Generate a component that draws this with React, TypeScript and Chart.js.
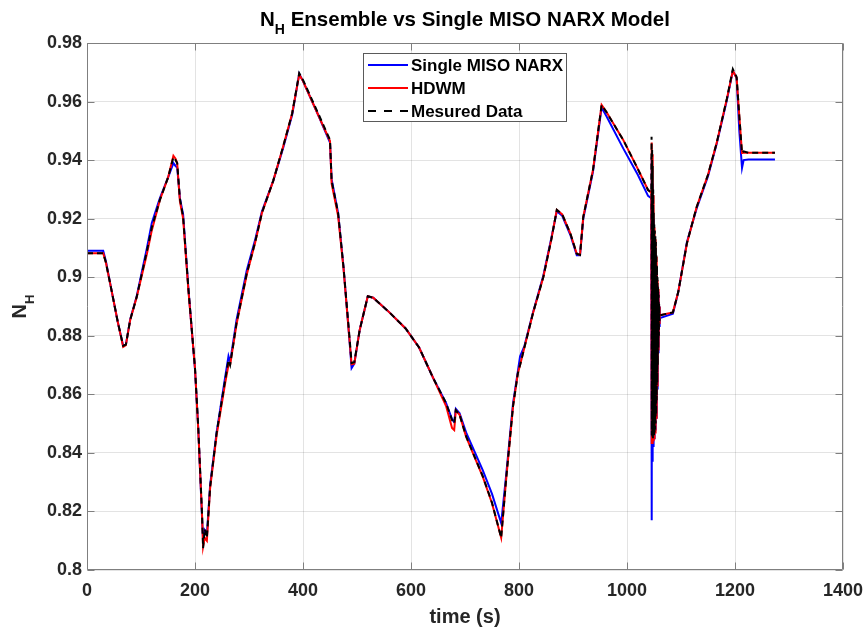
import React, { useEffect, useRef } from "react";
import { Chart, registerables } from "chart.js";

Chart.register(...registerables);

// ---------------- data ----------------
const time = [
  0, 30, 35, 46, 57, 67, 72, 80, 92, 111,
  120, 135, 150, 160, 164, 167, 172, 178, 188, 200,
  206, 213, 215, 218, 222, 228, 240, 256, 262, 265,
  277, 296, 311, 324, 345, 363, 380, 393, 400, 428,
  450, 453, 465, 475, 485, 490, 495, 505, 520, 530,
  560, 590, 615, 641, 665, 676, 680, 683, 690, 702,
  733, 750, 767, 776, 789, 798, 802, 810, 826, 845,
  860, 870, 880, 895, 907, 913, 919, 937, 953, 962,
  993, 1020, 1039, 1045,
  1045.5, 1046, 1046.5, 1047, 1047.5, 1048, 1048.5, 1049, 1049.5, 1050,
  1050.5, 1051, 1051.5, 1052, 1052.5, 1053, 1053.5, 1054, 1054.5, 1055,
  1055.5, 1056, 1056.5, 1057, 1057.5, 1058, 1058.5, 1059, 1059.5, 1060,
  1061, 1085, 1095, 1111, 1129, 1150, 1166, 1185, 1196, 1203,
  1208, 1213, 1216, 1225, 1250, 1274,
];

const measured = [
  0.9082, 0.9082, 0.905, 0.895, 0.8847, 0.8766, 0.877, 0.8854, 0.8932, 0.909,
  0.917, 0.9264, 0.934, 0.941, 0.94, 0.939, 0.927, 0.9206, 0.8956, 0.869,
  0.849, 0.8194, 0.8075, 0.814, 0.811, 0.8283, 0.8468, 0.865, 0.8717, 0.87,
  0.8844, 0.9014, 0.9117, 0.922, 0.933, 0.9445, 0.956, 0.9697, 0.9674, 0.956,
  0.9469, 0.933, 0.922, 0.9035, 0.882, 0.8707, 0.871, 0.882, 0.8935, 0.893,
  0.888, 0.8825, 0.876, 0.8656, 0.857, 0.8512, 0.85, 0.8546, 0.853, 0.8457,
  0.832, 0.823, 0.811, 0.8307, 0.856, 0.8673, 0.87, 0.876, 0.8878, 0.9,
  0.913, 0.923, 0.9215, 0.915, 0.908, 0.9076, 0.9206, 0.9366, 0.9588, 0.9564,
  0.9469, 0.937, 0.9298, 0.929,
  0.948, 0.846, 0.944, 0.845, 0.938, 0.845, 0.93, 0.846, 0.922, 0.846,
  0.918, 0.847, 0.916, 0.848, 0.914, 0.85, 0.912, 0.853, 0.908, 0.858,
  0.904, 0.864, 0.9, 0.87, 0.897, 0.876, 0.894, 0.88, 0.891, 0.885,
  0.887, 0.888, 0.895, 0.9117, 0.924, 0.935, 0.9458, 0.961, 0.9711, 0.9684,
  0.955, 0.9424, 0.943, 0.9425, 0.9425, 0.9425,
];

const hdwm = [
  0.9082, 0.9082, 0.905, 0.895, 0.8847, 0.8762, 0.8768, 0.8854, 0.8932, 0.908,
  0.916, 0.9264, 0.934, 0.9415, 0.9405, 0.939, 0.926, 0.92, 0.895, 0.869,
  0.848, 0.819, 0.808, 0.811, 0.81, 0.828, 0.846, 0.864, 0.87, 0.87,
  0.884, 0.901, 0.9115, 0.922, 0.933, 0.9445, 0.956, 0.9692, 0.967, 0.9555,
  0.9465, 0.932, 0.921, 0.903, 0.881, 0.8703, 0.8705, 0.882, 0.8935, 0.893,
  0.888, 0.8825, 0.876, 0.8656, 0.856, 0.8485, 0.8478, 0.8545, 0.853, 0.8455,
  0.8318, 0.8228, 0.811, 0.8305, 0.856, 0.8673, 0.87, 0.876, 0.8878, 0.9,
  0.913, 0.923, 0.9215, 0.915, 0.908, 0.9076, 0.9206, 0.9366, 0.9588, 0.9564,
  0.9469, 0.937, 0.9298, 0.929,
  0.946, 0.843, 0.942, 0.843, 0.936, 0.844, 0.928, 0.844, 0.92, 0.845,
  0.917, 0.846, 0.915, 0.847, 0.913, 0.849, 0.911, 0.852, 0.907, 0.857,
  0.903, 0.863, 0.899, 0.869, 0.896, 0.875, 0.893, 0.879, 0.89, 0.884,
  0.887, 0.888, 0.895, 0.9115, 0.924, 0.935, 0.9458, 0.961, 0.9705, 0.968,
  0.955, 0.9424, 0.9425, 0.9425, 0.9425, 0.9425,
];

const narx = [
  0.909, 0.909, 0.9055, 0.895, 0.8847, 0.8766, 0.877, 0.8856, 0.8935, 0.91,
  0.9185, 0.927, 0.934, 0.939, 0.938, 0.9375, 0.927, 0.9215, 0.8956, 0.8685,
  0.8485, 0.818, 0.81, 0.8135, 0.812, 0.829, 0.847, 0.866, 0.873, 0.871,
  0.8855, 0.9025, 0.9125, 0.9225, 0.933, 0.944, 0.9555, 0.9695, 0.967, 0.9555,
  0.946, 0.9335, 0.922, 0.9035, 0.881, 0.869, 0.8705, 0.882, 0.8935, 0.893,
  0.888, 0.8825, 0.876, 0.8656, 0.857, 0.8515, 0.8505, 0.855, 0.8535, 0.847,
  0.834, 0.826, 0.816, 0.832, 0.857, 0.868, 0.873, 0.8765, 0.888, 0.9005,
  0.9135, 0.9225, 0.921, 0.9145, 0.9075, 0.9075, 0.92, 0.936, 0.958, 0.955,
  0.944, 0.935, 0.9278, 0.927,
  0.941, 0.817, 0.932, 0.837, 0.926, 0.84, 0.92, 0.842, 0.915, 0.845,
  0.912, 0.846, 0.91, 0.848, 0.908, 0.85, 0.906, 0.852, 0.903, 0.857,
  0.9, 0.862, 0.897, 0.868, 0.895, 0.874, 0.892, 0.878, 0.89, 0.883,
  0.886, 0.8875, 0.895, 0.912, 0.9235, 0.9345, 0.9455, 0.9605, 0.9705, 0.968,
  0.95, 0.9373, 0.94, 0.9402, 0.9402, 0.9402,
];

const xTicks = [0, 200, 400, 600, 800, 1000, 1200, 1400];
const yTicks = [0.8, 0.82, 0.84, 0.86, 0.88, 0.9, 0.92, 0.94, 0.96, 0.98];

const seriesLabels = ["Single MISO NARX", "HDWM", "Mesured Data"];
const seriesColors = ["#0000ff", "#ff0000", "#000000"];

const FONT = '"Liberation Sans", Arial, Helvetica, sans-serif';
const AXIS_COLOR = "#7f7f7f";
const TEXT_COLOR = "#262626";

// ---------------- plugins ----------------
const decorPlugin = {
  id: "decor",
  afterDraw(chart: any) {
    const { ctx, chartArea: a, scales } = chart;
    const L = Math.round(a.left) + 0.5;
    const R = Math.round(a.right) - 0.5;
    const T = Math.round(a.top) + 0.5;
    const B = Math.round(a.bottom) - 0.5;
    ctx.save();

    // frame
    ctx.strokeStyle = AXIS_COLOR;
    ctx.lineWidth = 1;
    ctx.beginPath();
    ctx.rect(L, T, R - L, B - T);
    ctx.stroke();

    // inward tick marks
    const tl = 7;
    ctx.beginPath();
    xTicks.forEach((v) => {
      const x = Math.round(scales.x.getPixelForValue(v)) + 0.5;
      ctx.moveTo(x, B);
      ctx.lineTo(x, B - tl);
      ctx.moveTo(x, T);
      ctx.lineTo(x, T + tl);
    });
    yTicks.forEach((v) => {
      const y = Math.round(scales.y.getPixelForValue(v)) + 0.5;
      ctx.moveTo(L, y);
      ctx.lineTo(L + tl, y);
      ctx.moveTo(R, y);
      ctx.lineTo(R - tl, y);
    });
    ctx.stroke();

    // title: N_H Ensemble vs Single MISO NARX Model
    const cx = (a.left + a.right) / 2;
    const big = `bold 20.5px ${FONT}`;
    const small = `bold 14px ${FONT}`;
    const rest = " Ensemble vs Single MISO NARX Model";
    ctx.fillStyle = "#000000";
    ctx.textBaseline = "alphabetic";
    ctx.textAlign = "left";
    ctx.font = big;
    const wN = ctx.measureText("N").width;
    const wRest = ctx.measureText(rest).width;
    ctx.font = small;
    const wH = ctx.measureText("H").width;
    let tx = cx - (wN + wH + wRest) / 2;
    const tb = 26;
    ctx.font = big;
    ctx.fillText("N", tx, tb);
    tx += wN;
    ctx.font = small;
    ctx.fillText("H", tx, tb + 8);
    tx += wH;
    ctx.font = big;
    ctx.fillText(rest, tx, tb);

    // x label
    ctx.fillStyle = TEXT_COLOR;
    ctx.textAlign = "center";
    ctx.font = `bold 20px ${FONT}`;
    ctx.fillText("time (s)", cx, 623);

    // y label (rotated) N_H
    const cy = (a.top + a.bottom) / 2;
    ctx.save();
    ctx.translate(26, cy);
    ctx.rotate(-Math.PI / 2);
    ctx.textAlign = "left";
    ctx.font = `bold 20px ${FONT}`;
    const yN = ctx.measureText("N").width;
    ctx.font = `bold 13px ${FONT}`;
    const yH = ctx.measureText("H").width;
    const sx = -(yN + yH) / 2;
    ctx.font = `bold 20px ${FONT}`;
    ctx.fillText("N", sx, 0);
    ctx.font = `bold 13px ${FONT}`;
    ctx.fillText("H", sx + yN, 8);
    ctx.restore();

    // legend
    const bx = 363.5, by = 53.5, bw = 203, bh = 68;
    ctx.fillStyle = "#ffffff";
    ctx.fillRect(bx, by, bw, bh);
    ctx.strokeStyle = "#5a5a5a";
    ctx.lineWidth = 1;
    ctx.strokeRect(bx, by, bw, bh);
    const rows = [65, 88, 111];
    seriesLabels.forEach((lab, i) => {
      const y = rows[i];
      ctx.strokeStyle = seriesColors[i];
      ctx.lineWidth = 2;
      ctx.setLineDash(i === 2 ? [8, 8] : []);
      ctx.beginPath();
      ctx.moveTo(368, y);
      ctx.lineTo(408, y);
      ctx.stroke();
      ctx.setLineDash([]);
      ctx.fillStyle = "#000000";
      ctx.font = `bold 17px ${FONT}`;
      ctx.textAlign = "left";
      ctx.fillText(lab, 411, y + 6);
    });

    ctx.restore();
  },
};

// ---------------- component ----------------
export default function App() {
  const ref = useRef<HTMLCanvasElement | null>(null);

  useEffect(() => {
    if (!ref.current) return;
    const mk = (vals: number[]) => time.map((t, i) => ({ x: t, y: vals[i] }));
    const chart = new Chart(ref.current, {
      type: "line",
      data: {
        datasets: [
          {
            label: seriesLabels[0],
            data: mk(narx),
            borderColor: seriesColors[0],
            borderWidth: 2,
            pointRadius: 0,
            tension: 0,
            order: 3,
          },
          {
            label: seriesLabels[1],
            data: mk(hdwm),
            borderColor: seriesColors[1],
            borderWidth: 2,
            pointRadius: 0,
            tension: 0,
            order: 2,
          },
          {
            label: seriesLabels[2],
            data: mk(measured),
            borderColor: seriesColors[2],
            borderWidth: 2,
            borderDash: [6, 4],
            pointRadius: 0,
            tension: 0,
            order: 1,
          },
        ],
      },
      options: {
        responsive: false,
        animation: false,
        events: [],
        layout: { padding: { top: 43, right: 23, left: 0, bottom: 0 } },
        plugins: {
          legend: { display: false },
          tooltip: { enabled: false },
          title: { display: false },
        },
        scales: {
          x: {
            type: "linear",
            min: 0,
            max: 1400,
            afterFit: (s: any) => {
              s.height = 63;
              s.paddingLeft = 0;
              s.paddingRight = 0;
            },
            afterBuildTicks: (s: any) => {
              s.ticks = xTicks.map((v) => ({ value: v }));
            },
            ticks: {
              color: TEXT_COLOR,
              font: { family: FONT, size: 18, weight: "bold" },
              padding: 10,
              maxRotation: 0,
              autoSkip: false,
              callback: (v: any) => String(v),
            },
            grid: { color: "rgba(38,38,38,0.13)", drawTicks: false, lineWidth: 1 },
            border: { display: false },
          },
          y: {
            type: "linear",
            min: 0.8,
            max: 0.98,
            afterFit: (s: any) => {
              s.width = 87;
              s.paddingTop = 0;
              s.paddingBottom = 0;
            },
            afterBuildTicks: (s: any) => {
              s.ticks = yTicks.map((v) => ({ value: v }));
            },
            ticks: {
              color: TEXT_COLOR,
              font: { family: FONT, size: 18, weight: "bold" },
              padding: 5,
              autoSkip: false,
              callback: (v: any) => String(Number(Number(v).toFixed(2))),
            },
            grid: { color: "rgba(38,38,38,0.13)", drawTicks: false, lineWidth: 1 },
            border: { display: false },
          },
        },
      },
      plugins: [decorPlugin],
    });
    return () => chart.destroy();
  }, []);

  return (
    <div style={{ position: "fixed", left: 0, top: 0, width: 866, height: 633, background: "#ffffff" }}>
      <canvas ref={ref} width={866} height={633} style={{ display: "block" }} />
    </div>
  );
}
